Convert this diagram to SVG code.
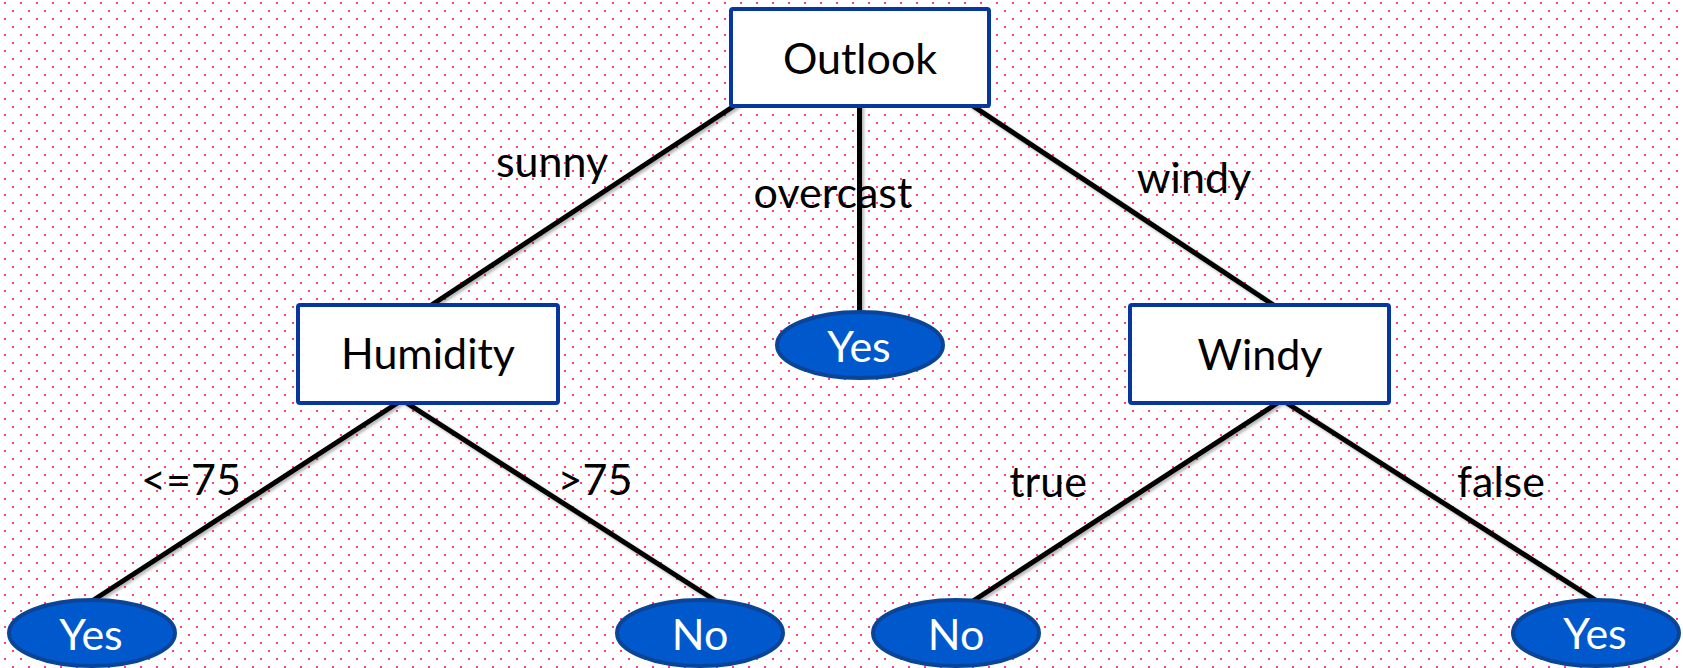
<svg xmlns="http://www.w3.org/2000/svg" width="1683" height="668" viewBox="0 0 1683 668">
<defs>
<pattern id="dots" x="0" y="0" width="16" height="16" patternUnits="userSpaceOnUse">
<rect x="4" y="2" width="2" height="2" fill="#ff3d8b"/>
<rect x="12" y="10" width="2" height="2" fill="#ff3d8b"/>
</pattern>
<filter id="sh" x="-10%" y="-10%" width="120%" height="120%">
<feDropShadow dx="2" dy="2" stdDeviation="1.5" flood-color="#000" flood-opacity="0.3"/>
</filter>
</defs>
<style>
.box{fill:#fff;stroke:#0637a0;stroke-width:4}
.leaf{fill:#0059cc;stroke:#0a4499;stroke-width:4}
.edge{stroke:#000;stroke-width:5;fill:none;stroke-linecap:butt}
text{font-family:Lato,"Open Sans","Liberation Sans",sans-serif;font-size:43px;text-anchor:middle}
.nt{fill:#000}
.lt{fill:#fff}
.el{fill:#000}
</style>
<rect width="1683" height="668" fill="#fff"/>
<rect width="1683" height="668" fill="url(#dots)"/>
<g id="connectors" filter="url(#sh)">
<line class="edge" x1="737" y1="104" x2="430" y2="306"/>
<line class="edge" x1="859.5" y1="104" x2="859.5" y2="312"/>
<line class="edge" x1="970" y1="104" x2="1275" y2="306"/>
<line class="edge" x1="402" y1="400" x2="92" y2="601"/>
<line class="edge" x1="402" y1="400" x2="716" y2="601"/>
<line class="edge" x1="1282" y1="400" x2="973" y2="601"/>
<line class="edge" x1="1282" y1="400" x2="1597" y2="601"/>
</g>
<g id="edge-labels">
<text class="el" x="552" y="177">sunny</text>
<text class="el" x="833" y="208">overcast</text>
<text class="el" x="1194" y="193">windy</text>
<text class="el" x="191" y="495">&lt;=75</text>
<text class="el" x="595" y="495">&gt;75</text>
<text class="el" x="1048" y="497">true</text>
<text class="el" x="1501" y="497">false</text>
</g>
<g id="outlook">
<rect class="box" x="731" y="9" width="258" height="97" rx="2"/>
<text class="nt" x="860" y="74">Outlook</text>
</g>
<g id="humidity">
<rect class="box" x="298" y="305" width="260" height="98" rx="2"/>
<text class="nt" x="428" y="369">Humidity</text>
</g>
<g id="windy">
<rect class="box" x="1130" y="305" width="259" height="98" rx="2"/>
<text class="nt" x="1260" y="370">Windy</text>
</g>
<g id="yes-overcast">
<ellipse class="leaf" cx="860" cy="345" rx="83" ry="33"/>
<text class="lt" x="859" y="362">Yes</text>
</g>
<g id="yes-low-humidity">
<ellipse class="leaf" cx="92" cy="633" rx="83" ry="33"/>
<text class="lt" x="91" y="650">Yes</text>
</g>
<g id="no-high-humidity">
<ellipse class="leaf" cx="700" cy="633" rx="83" ry="33"/>
<text class="lt" x="700" y="650">No</text>
</g>
<g id="no-windy-true">
<ellipse class="leaf" cx="956" cy="633" rx="83" ry="33"/>
<text class="lt" x="956" y="650">No</text>
</g>
<g id="yes-windy-false">
<ellipse class="leaf" cx="1596" cy="633" rx="83" ry="33"/>
<text class="lt" x="1595" y="649">Yes</text>
</g>
</svg>
